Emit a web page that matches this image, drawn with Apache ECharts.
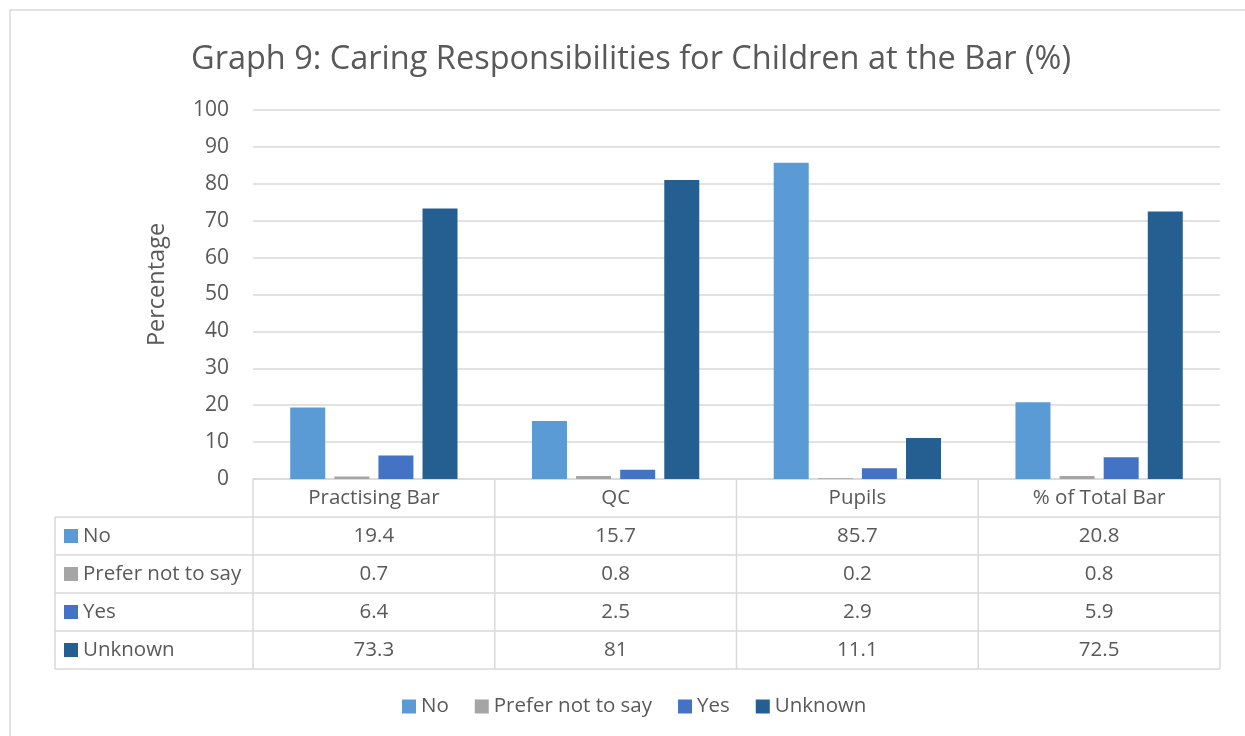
<!DOCTYPE html>
<html>
<head>
<meta charset="utf-8">
<script src="https://cdn.jsdelivr.net/npm/echarts@6/dist/echarts.min.js"></script>
<style>
html,body{margin:0;padding:0;background:#fff;}
#main{width:1245px;height:736px;}
</style>
</head>
<body>
<div id="main"></div>
<script>
const categories = ['Practising Bar', 'QC', 'Pupils', '% of Total Bar'];
const seriesNames = ['No', 'Prefer not to say', 'Yes', 'Unknown'];
const noValues = [19.4, 15.7, 85.7, 20.8];
const preferValues = [0.7, 0.8, 0.2, 0.8];
const yesValues = [6.4, 2.5, 2.9, 5.9];
const unknownValues = [73.3, 81, 11.1, 72.5];
const seriesColors = ['#5B9BD5', '#A5A5A5', '#4472C4', '#255E91'];
const titleText = 'Graph 9: Caring Responsibilities for Children at the Bar (%)';
const yAxisName = 'Percentage';

const allValues = [noValues, preferValues, yesValues, unknownValues];
const FONT = 'Open Sans';
const TXT = '#595959';
const LINE = '#D9D9D9';
const TABLE_FONT = '20.5px "' + FONT + '"';

const chart = echarts.init(document.getElementById('main'));
const option = {
  animation: false,
  textStyle: { fontFamily: FONT, color: TXT },
  title: {
    text: titleText, left: 186, top: 38,
    textStyle: { fontFamily: FONT, fontSize: 32.5, fontWeight: 'normal', color: TXT }
  },
  legend: {
    bottom: 14, left: 397, itemWidth: 14, itemHeight: 14, itemGap: 26,
    icon: 'rect',
    textStyle: { fontFamily: FONT, fontSize: 20.5, color: TXT },
    data: seriesNames
  },
  grid: { left: 253, right: 25, top: 110, bottom: 257, containLabel: false },
  xAxis: {
    type: 'category', data: categories,
    axisLine: { show: true, lineStyle: { color: LINE, width: 1.5 } },
    axisTick: { show: false },
    axisLabel: { show: false },
    splitLine: { show: false }
  },
  yAxis: {
    type: 'value', min: 0, max: 100, interval: 10,
    axisLine: { show: false }, axisTick: { show: false },
    axisLabel: { fontFamily: FONT, fontSize: 21, color: TXT, margin: 24 },
    splitLine: { lineStyle: { color: LINE, width: 1.5 } }
  },
  series: seriesNames.map((n, i) => ({
    name: n, type: 'bar', data: allValues[i],
    itemStyle: { color: seriesColors[i] },
    barWidth: 35, barGap: '26%', barCategoryGap: '31%'
  }))
};
chart.setOption(option);

// Build data table beneath the axis from the same arrays
function buildTable() {
  const g = [];
  const x0 = chart.convertToPixel({ xAxisIndex: 0 }, 0);
  const x1 = chart.convertToPixel({ xAxisIndex: 0 }, 1);
  const colW = x1 - x0;
  const gridLeft = x0 - colW / 2;
  const gridRight = gridLeft + colW * categories.length;
  const top = chart.convertToPixel({ yAxisIndex: 0 }, 0);
  const rowH = 38;
  const labelLeft = 55;
  const nRows = seriesNames.length;
  const bottom = top + rowH * (nRows + 1);
  const ls = { stroke: LINE, lineWidth: 1.5 };
  for (let c = 0; c <= categories.length; c++) {
    const x = gridLeft + c * colW;
    g.push({ type: 'line', shape: { x1: x, y1: top, x2: x, y2: bottom }, style: ls, silent: true });
  }
  g.push({ type: 'line', shape: { x1: labelLeft, y1: top + rowH, x2: labelLeft, y2: bottom }, style: ls, silent: true });
  for (let r = 1; r <= nRows + 1; r++) {
    const y = top + r * rowH;
    g.push({ type: 'line', shape: { x1: labelLeft, y1: y, x2: gridRight, y2: y }, style: ls, silent: true });
  }
  categories.forEach((c, i) => {
    g.push({ type: 'text', x: gridLeft + (i + 0.5) * colW, y: top + rowH / 2,
      style: { text: c, fill: TXT, font: TABLE_FONT, align: 'center', verticalAlign: 'middle' }, silent: true });
  });
  seriesNames.forEach((n, r) => {
    const yc = top + (r + 1.5) * rowH;
    g.push({ type: 'rect', shape: { x: labelLeft + 9, y: yc - 7, width: 14, height: 14 }, style: { fill: seriesColors[r] }, silent: true });
    g.push({ type: 'text', x: labelLeft + 28, y: yc,
      style: { text: n, fill: TXT, font: TABLE_FONT, align: 'left', verticalAlign: 'middle' }, silent: true });
    allValues[r].forEach((v, i) => {
      g.push({ type: 'text', x: gridLeft + (i + 0.5) * colW, y: yc,
        style: { text: String(v), fill: TXT, font: TABLE_FONT, align: 'center', verticalAlign: 'middle' }, silent: true });
    });
  });
  // y-axis title
  const yTop = chart.convertToPixel({ yAxisIndex: 0 }, 100);
  g.push({ type: 'text', x: gridLeft - 96, y: (yTop + top) / 2 - 10, rotation: Math.PI / 2,
    style: { text: yAxisName, fill: TXT, font: '23.5px "' + FONT + '"', align: 'center', verticalAlign: 'middle' }, silent: true });
  g.push({ type: 'rect', shape: { x: 10, y: 10, width: 1300, height: 800 },
    style: { fill: 'none', stroke: LINE, lineWidth: 1.5 }, silent: true, z: -1 });
  chart.setOption({ graphic: g });
}
buildTable();
</script>
</body>
</html>
